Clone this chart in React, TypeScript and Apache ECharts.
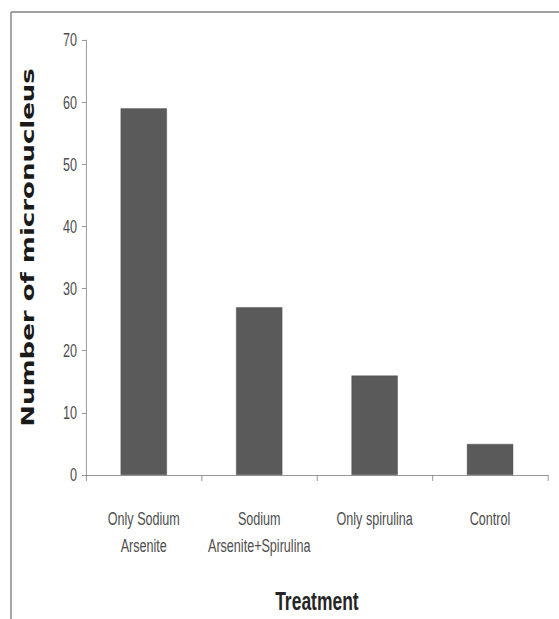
import React, { useEffect, useRef } from "react";
import * as echarts from "echarts";

const categories = ["Only Sodium\nArsenite", "Sodium\nArsenite+Spirulina", "Only spirulina", "Control"];
const values = [59, 27, 16, 5];
const yTicks = { min: 0, max: 70, interval: 10 };

const SQUISH = 0.6996;
const W = 799;
const H = 619;

export default function App() {
  const ref = useRef<HTMLDivElement>(null);
  useEffect(() => {
    if (!ref.current) return;
    const chart = echarts.init(ref.current, undefined, { renderer: "svg" });
    const labelFont = "'Liberation Sans', Arial, sans-serif";
    chart.setOption({
      animation: false,
      backgroundColor: "#ffffff",
      grid: { left: 123, right: 16, top: 40, bottom: 142, containLabel: false },
      graphic: [
        { type: "line", shape: { x1: 15.7, y1: 12, x2: W, y2: 12 }, style: { stroke: "#7f7f7f", lineWidth: 1.5 } },
        { type: "line", shape: { x1: 15.7, y1: 12, x2: 15.7, y2: H }, style: { stroke: "#7f7f7f", lineWidth: 2 } },
      ],
      xAxis: {
        type: "category",
        data: categories,
        name: "Treatment",
        nameLocation: "middle",
        nameGap: 114,
        nameTextStyle: { fontFamily: labelFont, fontSize: 25, fontWeight: "bold", color: "#262626" },
        axisLine: { lineStyle: { color: "#868686", width: 1 } },
        axisTick: { show: true, length: 6, alignWithLabel: false, lineStyle: { color: "#868686" } },
        axisLabel: {
          interval: 0,
          margin: 30,
          fontFamily: labelFont,
          fontSize: 18,
          lineHeight: 27,
          color: "#4d4d4d",
        },
        splitLine: { show: false },
      },
      yAxis: {
        type: "value",
        min: yTicks.min,
        max: yTicks.max,
        interval: yTicks.interval,
        name: "Number of micronucleus",
        nameLocation: "middle",
        nameGap: 70,
        nameTextStyle: {
          fontFamily: "'DejaVu Sans', Verdana, sans-serif",
          fontSize: 26,
          fontWeight: "bold",
          color: "#1a1a1a",
          padding: [0, 0, 0, 20],
        },
        axisLine: { show: true, lineStyle: { color: "#868686", width: 1 } },
        axisTick: { show: true, length: 6, lineStyle: { color: "#868686" } },
        axisLabel: { margin: 13, fontFamily: labelFont, fontSize: 18, color: "#4d4d4d" },
        splitLine: { show: false },
      },
      series: [
        {
          type: "bar",
          data: values,
          barWidth: "40%",
          itemStyle: { color: "#5a5a5a", borderColor: "#4a4a4a", borderWidth: 0.5 },
        },
      ],
    });
    return () => chart.dispose();
  }, []);
  return (
    <div
      style={{
        position: "fixed",
        left: 0,
        top: 0,
        width: 559,
        height: H,
        overflow: "hidden",
        background: "#ffffff",
      }}
    >
      <div
        ref={ref}
        style={{ width: W, height: H, transform: `scaleX(${SQUISH})`, transformOrigin: "0 0" }}
      />
    </div>
  );
}
